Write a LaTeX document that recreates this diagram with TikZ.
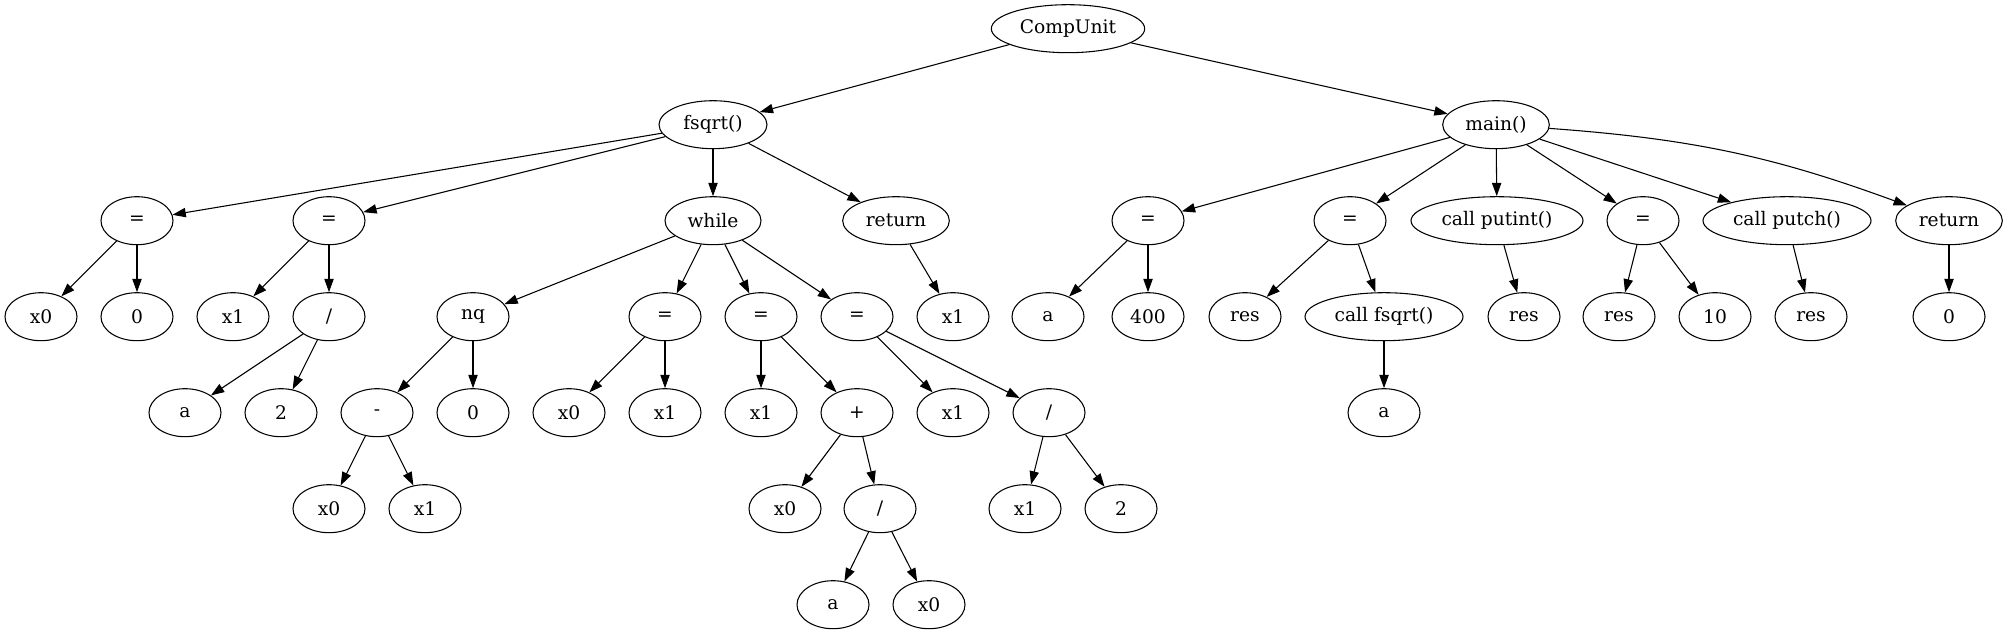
\documentclass[tikz,border=0pt]{standalone}
\usepackage{fontspec}
\setmainfont{DejaVu Serif}
\usetikzlibrary{shapes, arrows.meta}

\tikzset{
    ast/.style={draw, ellipse, line width=0.8pt, minimum width=54pt, minimum height=36pt,
        inner sep=0pt, font=\fontsize{14}{16}\selectfont},
    edge/.style={line width=0.8pt, -{Triangle[length=10pt,width=7pt]}}
}

\begin{document}
\begin{tikzpicture}[x=0.75pt, y=-0.75pt]
    \useasboundingbox (0,0) rectangle (2008,635);
    % root and functions
    \node[ast, minimum width=115pt](CU) at (1068,28.7) {CompUnit};
    \node[ast, minimum width=81pt](fsqrt) at (713,124.7) {fsqrt()};
    \node[ast, minimum width=80pt](main) at (1496,124.7) {main()};
    \draw[edge] (CU) -- (fsqrt);
    \draw[edge] (CU) -- (main);

    % body of fsqrt()
    \node[ast](asg_a) at (137,220.7) {=};
    \node[ast](asg_b) at (329,220.7) {=};
    \node[ast, minimum width=72pt](while) at (713,220.7) {while};
    \node[ast, minimum width=80pt](ret_f) at (896,220.7) {return};
    \draw[edge] (fsqrt) -- (asg_a);
    \draw[edge] (fsqrt) -- (asg_b);
    \draw[edge] (fsqrt) -- (while);
    \draw[edge] (fsqrt) -- (ret_f);

    \node[ast](x0_a) at (41,316.7) {x0};
    \node[ast](zero_a) at (137,316.7) {0};
    \draw[edge] (asg_a) -- (x0_a);
    \draw[edge] (asg_a) -- (zero_a);
    \node[ast](x1_a) at (233,316.7) {x1};
    \node[ast](div_a) at (329,316.7) {/};
    \draw[edge] (asg_b) -- (x1_a);
    \draw[edge] (asg_b) -- (div_a);
    \node[ast](a_a) at (185,412.7) {a};
    \node[ast](two_a) at (281,412.7) {2};
    \draw[edge] (div_a) -- (a_a);
    \draw[edge] (div_a) -- (two_a);

    % while loop
    \node[ast](nq) at (473,316.7) {nq};
    \node[ast](asg_c) at (665,316.7) {=};
    \node[ast](asg_d) at (761,316.7) {=};
    \node[ast](asg_e) at (857,316.7) {=};
    \draw[edge] (while) -- (nq);
    \draw[edge] (while) -- (asg_c);
    \draw[edge] (while) -- (asg_d);
    \draw[edge] (while) -- (asg_e);
    \node[ast](x1_r) at (953,316.7) {x1};
    \draw[edge] (ret_f) -- (x1_r);

    \node[ast](minus) at (377,412.7) {-};
    \node[ast](zero_b) at (473,412.7) {0};
    \draw[edge] (nq) -- (minus);
    \draw[edge] (nq) -- (zero_b);
    \node[ast](x0_b) at (329,508.7) {x0};
    \node[ast](x1_b) at (425,508.7) {x1};
    \draw[edge] (minus) -- (x0_b);
    \draw[edge] (minus) -- (x1_b);

    \node[ast](x0_c) at (569,412.7) {x0};
    \node[ast](x1_c) at (665,412.7) {x1};
    \draw[edge] (asg_c) -- (x0_c);
    \draw[edge] (asg_c) -- (x1_c);

    \node[ast](x1_d) at (761,412.7) {x1};
    \node[ast](plus) at (857,412.7) {+};
    \draw[edge] (asg_d) -- (x1_d);
    \draw[edge] (asg_d) -- (plus);
    \node[ast](x0_d) at (785,508.7) {x0};
    \node[ast](div_b) at (880,508.7) {/};
    \draw[edge] (plus) -- (x0_d);
    \draw[edge] (plus) -- (div_b);
    \node[ast](a_b) at (833,604.7) {a};
    \node[ast](x0_e) at (929,604.7) {x0};
    \draw[edge] (div_b) -- (a_b);
    \draw[edge] (div_b) -- (x0_e);

    \node[ast](x1_e) at (953,412.7) {x1};
    \node[ast](div_c) at (1049,412.7) {/};
    \draw[edge] (asg_e) -- (x1_e);
    \draw[edge] (asg_e) -- (div_c);
    \node[ast](x1_f) at (1025,508.7) {x1};
    \node[ast](two_b) at (1121,508.7) {2};
    \draw[edge] (div_c) -- (x1_f);
    \draw[edge] (div_c) -- (two_b);

    % body of main()
    \node[ast](asg_m1) at (1148,220.7) {=};
    \node[ast](asg_m2) at (1350,220.7) {=};
    \node[ast, minimum width=129pt](putint) at (1497,220.7) {call putint()};
    \node[ast](asg_m3) at (1643,220.7) {=};
    \node[ast, minimum width=126pt](putch) at (1787,220.7) {call putch()};
    \node[ast, minimum width=80pt](ret_m) at (1949,220.7) {return};
    \draw[edge] (main) -- (asg_m1);
    \draw[edge] (main) -- (asg_m2);
    \draw[edge] (main) -- (putint);
    \draw[edge] (main) -- (asg_m3);
    \draw[edge] (main) -- (putch);
    \draw[edge] (main) to[bend left=8] (ret_m);

    \node[ast](a_m) at (1048,316.7) {a};
    \node[ast](n400) at (1148,316.7) {400};
    \draw[edge] (asg_m1) -- (a_m);
    \draw[edge] (asg_m1) -- (n400);
    \node[ast](res_a) at (1245,316.7) {res};
    \node[ast, minimum width=118.5pt](callf) at (1384,316.7) {call fsqrt()};
    \draw[edge] (asg_m2) -- (res_a);
    \draw[edge] (asg_m2) -- (callf);
    \node[ast](a_c) at (1384,412.7) {a};
    \draw[edge] (callf) -- (a_c);
    \node[ast](res_b) at (1524,316.7) {res};
    \draw[edge] (putint) -- (res_b);
    \node[ast](res_c) at (1619,316.7) {res};
    \node[ast](ten) at (1715,316.7) {10};
    \draw[edge] (asg_m3) -- (res_c);
    \draw[edge] (asg_m3) -- (ten);
    \node[ast](res_d) at (1811,316.7) {res};
    \draw[edge] (putch) -- (res_d);
    \node[ast](zero_m) at (1949,316.7) {0};
    \draw[edge] (ret_m) -- (zero_m);
\end{tikzpicture}
\end{document}
